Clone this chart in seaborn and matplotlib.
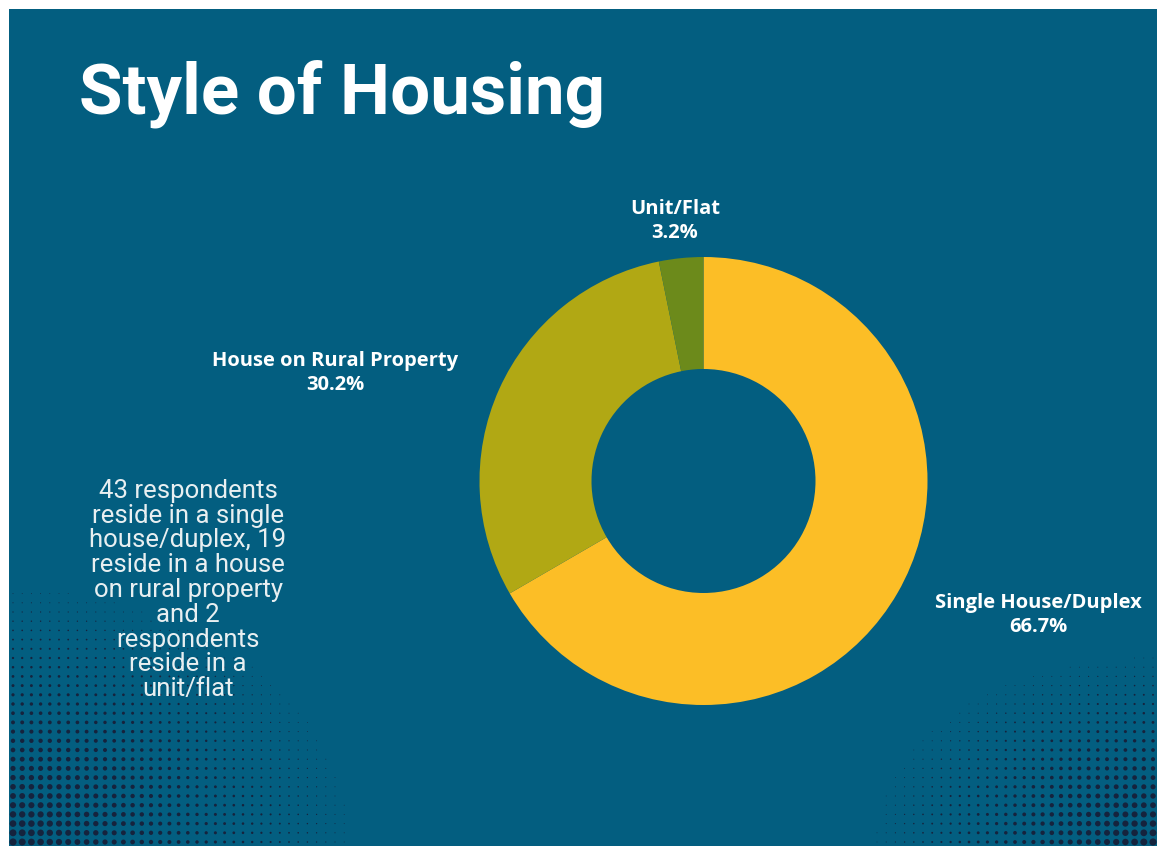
import numpy as np
import matplotlib
matplotlib.use("Agg")
import matplotlib.pyplot as plt
from matplotlib.patches import Rectangle
import seaborn as sns

# ---- data ----
categories = ["Single House/Duplex", "House on Rural Property", "Unit/Flat"]
shares = [66.7, 30.2, 3.2]
pct_labels = ["66.7%", "30.2%", "3.2%"]
counts = [43, 19, 2]
title = "Style of Housing"
note = ("43 respondents\nreside in a single\nhouse/duplex, 19\nreside in a house\n"
        "on rural property\nand 2\nrespondents\nreside in a\nunit/flat")

# ---- style ----
sns.set_theme(style="white")
plt.rcParams['font.family'] = ['Open Sans', 'DejaVu Sans']
BG = "#035E80"
DOT = "#17203A"
colors = sns.color_palette(["#FCBE26", "#B1A814", "#6C8A1B"])

W, H = 1162, 849
fig = plt.figure(figsize=(W / 100, H / 100), dpi=100, facecolor="white")
ax = fig.add_axes([0, 0, 1, 1])

def py(y):  # pixel-from-top -> data y
    return H - y

# panel
ax.add_patch(Rectangle((9, py(846)), 1148, 837, facecolor=BG, edgecolor="none", zorder=0))

# halftone decorations
sp = 9.2
def halftone(cx, cy, a, b, rmax, sx, sy):
    xs = np.arange(0, a + sp, sp)
    ys = np.arange(0, b + sp, sp)
    X, Y = np.meshgrid(xs, ys)
    d = np.sqrt((X / a) ** 2 + (Y / b) ** 2)
    r = rmax * np.clip(1 - d, 0, 1) ** 1.2
    m = r > 0.4
    px = cx + sx * X[m]
    pyy = cy + sy * Y[m]
    ax.scatter(px, py(pyy), s=(1.44 * r[m]) ** 2, c=DOT, linewidths=0, zorder=1, alpha=0.95)

halftone(13, 842, 400, 300, 3.6, 1, -1)
halftone(1153, 842, 330, 220, 3.6, -1, -1)

# donut
cx, cy, R = 703.5, 481, 224
ax.pie(shares, colors=colors, startangle=90, counterclock=False,
       center=(cx, py(cy)), radius=R,
       wedgeprops=dict(width=R * 0.5, linewidth=0, edgecolor="none"))

ax.set_xlim(0, W)
ax.set_ylim(0, H)
ax.set_aspect("auto")
ax.axis("off")

# slice labels
label_pos = [(1038, 615), (335, 373), (675, 221)]
for cat, pl, (lx, ly) in zip(categories, pct_labels, label_pos):
    ax.text(lx, py(ly), f"{cat}\n{pl}", ha="center", va="center", color="white",
            fontsize=14.5, fontweight="bold", linespacing=1.32, zorder=5)

# title
ax.text(79, py(113), title, ha="left", va="baseline", color="white",
        fontsize=51, fontweight="bold",
        family=["Roboto", "DejaVu Sans"], zorder=5)

# note
ax.text(188, py(590), note, ha="center", va="center", color="#E8EFF1",
        fontsize=18.5, family=["Roboto", "DejaVu Sans"], linespacing=1.04, zorder=5)

fig.savefig("out.png", dpi=100, facecolor="white")
